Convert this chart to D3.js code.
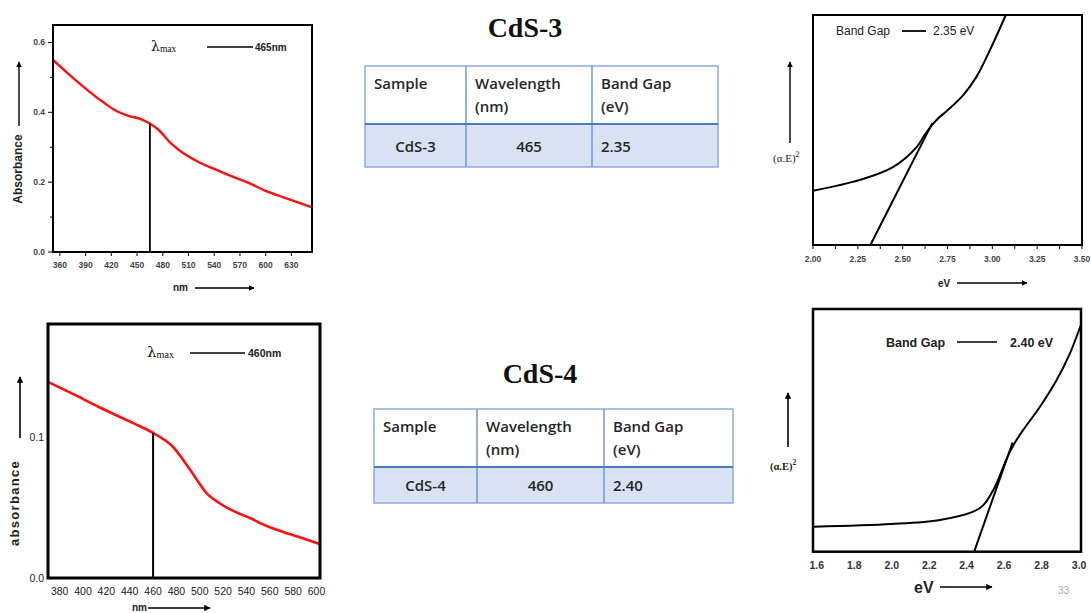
<!DOCTYPE html>
<html>
<head>
<meta charset="utf-8">
<script src="https://cdn.jsdelivr.net/npm/d3@7"></script>
<style>
  body { margin: 0; background: #fff; }
  svg { display: block; }
</style>
</head>
<body>
<svg id="slide"></svg>
<script>
// ---- data ----
// CdS-3 absorbance (nm, abs)
var cds3Nm  = [352, 370, 390, 410, 425, 440, 455, 465, 475, 490, 500, 520, 540, 560, 580, 600, 620, 640, 654];
var cds3Abs = [0.55, 0.51, 0.468, 0.43, 0.405, 0.39, 0.38, 0.368, 0.35, 0.31, 0.29, 0.26, 0.238, 0.217, 0.198, 0.175, 0.157, 0.14, 0.128];
var cds3Peak = 465;
var cds3XTicks = [360, 390, 420, 450, 480, 510, 540, 570, 600, 630];
var cds3YTicks = [0.0, 0.2, 0.4, 0.6];

// CdS-4 absorbance
var cds4Nm  = [370, 390, 414, 443, 460, 477, 492, 506, 517, 530, 543, 557, 571, 585, 603];
var cds4Abs = [0.139, 0.131, 0.121, 0.1097, 0.1028, 0.093, 0.0764, 0.060, 0.053, 0.047, 0.0425, 0.037, 0.0328, 0.029, 0.024];
var cds4Peak = 460;
var cds4XTicks = [380, 400, 420, 440, 460, 480, 500, 520, 540, 560, 580, 600];
var cds4YTicks = [0.0, 0.1];

// Tauc plots (eV, (αE)^2 in arbitrary units 0-100)
var tauc3Ev  = [2.00, 2.262, 2.448, 2.579, 2.62, 2.66, 2.70, 2.746, 2.838, 2.912, 2.987, 3.075];
var tauc3Val = [23.6, 28.3, 34.0, 42.7, 47.6, 51.8, 55.2, 58.3, 65.2, 73.2, 84.8, 100];
var tangent3 = [[2.32, 0], [2.665, 53]];
var tauc3XTicks = [2.00, 2.25, 2.50, 2.75, 3.00, 3.25, 3.50];

var tauc4Ev  = [1.585, 2.0, 2.258, 2.435, 2.489, 2.542, 2.596, 2.62, 2.66, 2.70, 2.791, 2.880, 2.951, 2.996, 3.01];
var tauc4Val = [10.3, 11.4, 13.1, 16.5, 19.2, 25.4, 35.0, 39.5, 45.3, 50.0, 59.7, 70.7, 81.7, 90.6, 93.5];
var tangent4 = [[2.44, 0], [2.645, 45]];
var tauc4XTicks = [1.6, 1.8, 2.0, 2.2, 2.4, 2.6, 2.8, 3.0];

// tables
var tableHeader = [["Sample"], ["Wavelength", "(nm)"], ["Band Gap", "(eV)"]];
var row3 = ["CdS-3", "465", "2.35"];
var row4 = ["CdS-4", "460", "2.40"];

var svg = d3.select("#slide").attr("width", 1091).attr("height", 613);

svg.append("defs").append("marker")
  .attr("id", "arr").attr("viewBox", "0 0 10 10")
  .attr("refX", 9).attr("refY", 5)
  .attr("markerWidth", 4).attr("markerHeight", 4)
  .attr("orient", "auto")
  .append("path").attr("d", "M0,0 L10,5 L0,10 z").attr("fill", "#000");

function arrow(x1, y1, x2, y2, w) {
  svg.append("line")
    .attr("x1", x1).attr("y1", y1).attr("x2", x2).attr("y2", y2)
    .attr("stroke", "#000").attr("stroke-width", w || 1.5)
    .attr("marker-end", "url(#arr)");
}

function frame(x, y, w, h, sw) {
  svg.append("rect").attr("x", x).attr("y", y).attr("width", w).attr("height", h)
    .attr("fill", "none").attr("stroke", "#000").attr("stroke-width", sw);
}

function lambdaLabel(x, y, size, lx1, lx2, val, valX, valSize) {
  var t = svg.append("text").attr("x", x).attr("y", y)
    .attr("font-family", "DejaVu Serif, serif")
    .attr("font-size", size).attr("fill", "#111");
  t.append("tspan").text("λ");
  t.append("tspan").attr("font-family", "Liberation Serif, serif")
    .attr("font-size", size * 0.68).attr("dy", 1).text("max");
  svg.append("line").attr("x1", lx1).attr("x2", lx2).attr("y1", y - 4).attr("y2", y - 4)
    .attr("stroke", "#000").attr("stroke-width", 1.6);
  svg.append("text").attr("x", valX).attr("y", y)
    .attr("font-family", "Liberation Sans, Arial, sans-serif").attr("font-weight", "bold")
    .attr("font-size", valSize).attr("fill", "#222").text(val);
}

// ---------- Panel 1 : CdS-3 absorbance ----------
(function () {
  var x = d3.scaleLinear().domain([352, 654]).range([53, 312]);
  var y = d3.scaleLinear().domain([0, 0.65]).range([252, 25]);
  var g = svg.append("g");
  var font = "Liberation Sans, Arial, sans-serif";

  g.selectAll(".xt").data(cds3XTicks).enter().append("line")
    .attr("x1", d => x(d)).attr("x2", d => x(d)).attr("y1", 252).attr("y2", 256)
    .attr("stroke", "#000").attr("stroke-width", 1);
  g.selectAll(".xl").data(cds3XTicks).enter().append("text")
    .attr("x", d => x(d)).attr("y", 268).attr("text-anchor", "middle")
    .attr("font-family", font).attr("font-weight", "bold").attr("font-size", 8.5)
    .attr("fill", "#444").text(d => d);
  g.selectAll(".yt").data(d3.range(0, 0.61, 0.1)).enter().append("line")
    .attr("x1", 53).attr("x2", (d, i) => i % 2 ? 50 : 48).attr("y1", d => y(d)).attr("y2", d => y(d))
    .attr("stroke", "#000").attr("stroke-width", 1);
  g.selectAll(".yl").data(cds3YTicks).enter().append("text")
    .attr("x", 45).attr("y", d => y(d) + 3).attr("text-anchor", "end")
    .attr("font-family", font).attr("font-weight", "bold").attr("font-size", 8.5)
    .attr("fill", "#444").text(d => d.toFixed(1));

  var line = d3.line().x((d, i) => x(cds3Nm[i])).y(d => y(d)).curve(d3.curveMonotoneX);
  g.append("path").datum(cds3Abs).attr("d", line)
    .attr("fill", "none").attr("stroke", "#ff1010").attr("stroke-width", 2.4);
  var peakY = cds3Abs[cds3Nm.indexOf(cds3Peak)];
  g.append("line").attr("x1", x(cds3Peak)).attr("x2", x(cds3Peak))
    .attr("y1", y(0)).attr("y2", y(peakY)).attr("stroke", "#000").attr("stroke-width", 1.8);
  frame(53, 25, 259, 227, 2);

  lambdaLabel(151, 51, 14, 207, 253, cds3Peak + "nm", 255, 10);

  svg.append("text").attr("transform", "translate(22,169) rotate(-90)")
    .attr("text-anchor", "middle").attr("font-family", font).attr("font-weight", "bold")
    .attr("font-size", 12).attr("fill", "#222").text("Absorbance");
  arrow(19, 126, 19, 62, 1.4);
  svg.append("text").attr("x", 173).attr("y", 291).attr("font-family", font).attr("font-weight", "bold")
    .attr("font-size", 10).attr("fill", "#222").text("nm");
  arrow(195, 288, 254, 288, 1.4);
})();

// ---------- Panel 2 : CdS-4 absorbance ----------
(function () {
  var x = d3.scaleLinear().domain([370, 603]).range([48, 320]);
  var y = d3.scaleLinear().domain([0, 0.18]).range([578, 324]);
  var g = svg.append("g");
  var font = "Liberation Sans Narrow, Liberation Sans, Arial, sans-serif";

  g.selectAll(".xl").data(cds4XTicks).enter().append("text")
    .attr("x", d => x(d)).attr("y", 595).attr("text-anchor", "middle")
    .attr("font-family", font).attr("font-size", 10.5).attr("font-stretch", "condensed")
    .attr("fill", "#222").text(d => d);
  g.selectAll(".yl").data(cds4YTicks).enter().append("text")
    .attr("x", 44).attr("y", d => y(d) + 4).attr("text-anchor", "end")
    .attr("font-family", font).attr("font-size", 10.5).attr("fill", "#222").text(d => d.toFixed(1));

  var line = d3.line().x((d, i) => x(cds4Nm[i])).y(d => y(d)).curve(d3.curveMonotoneX);
  g.append("path").datum(cds4Abs).attr("d", line)
    .attr("fill", "none").attr("stroke", "#ff1010").attr("stroke-width", 2.6);
  var peakY = cds4Abs[cds4Nm.indexOf(cds4Peak)];
  g.append("line").attr("x1", x(cds4Peak)).attr("x2", x(cds4Peak))
    .attr("y1", y(0)).attr("y2", y(peakY)).attr("stroke", "#000").attr("stroke-width", 2);
  frame(48, 324, 272, 254, 3);

  lambdaLabel(147, 357, 15, 190, 245, cds4Peak + "nm", 248, 10.5);

  svg.append("text").attr("transform", "translate(19,503) rotate(-90)")
    .attr("text-anchor", "middle").attr("font-family", "Liberation Sans, Arial, sans-serif")
    .attr("font-weight", "bold").attr("letter-spacing", 1.3)
    .attr("font-size", 13).attr("fill", "#222").text("absorbance");
  arrow(20, 438, 20, 377, 1.6);
  svg.append("text").attr("x", 132).attr("y", 611).attr("font-family", "Liberation Sans, Arial, sans-serif")
    .attr("font-weight", "bold").attr("font-size", 10).attr("fill", "#222").text("nm");
  arrow(148, 608, 210, 608, 1.6);
})();

// ---------- Panel 3 : CdS-3 Tauc ----------
(function () {
  var x = d3.scaleLinear().domain([2.0, 3.5]).range([813, 1082]);
  var y = d3.scaleLinear().domain([0, 100]).range([245, 15]);
  var g = svg.append("g");
  var font = "Liberation Sans, Arial, sans-serif";

  g.selectAll(".xt").data(d3.range(2.0, 3.51, 0.125)).enter().append("line")
    .attr("x1", d => x(d)).attr("x2", d => x(d)).attr("y1", 245).attr("y2", 249)
    .attr("stroke", "#000").attr("stroke-width", 1);
  g.selectAll(".xl").data(tauc3XTicks).enter().append("text")
    .attr("x", d => x(d)).attr("y", 262).attr("text-anchor", "middle")
    .attr("font-family", font).attr("font-weight", "bold").attr("font-size", 8.5)
    .attr("fill", "#444").text(d => d.toFixed(2));

  svg.append("clipPath").attr("id", "c3").append("rect")
    .attr("x", 813).attr("y", 15).attr("width", 269).attr("height", 230);
  var line = d3.line().x((d, i) => x(tauc3Ev[i])).y(d => y(d)).curve(d3.curveCatmullRom.alpha(0.5));
  g.append("path").datum(tauc3Val).attr("d", line).attr("clip-path", "url(#c3)")
    .attr("fill", "none").attr("stroke", "#000").attr("stroke-width", 2);
  g.append("path").datum(tangent3).attr("d", d3.line().x(d => x(d[0])).y(d => y(d[1])))
    .attr("fill", "none").attr("stroke", "#000").attr("stroke-width", 2);
  frame(813, 15, 269, 230, 2);

  svg.append("text").attr("x", 836).attr("y", 35).attr("font-family", font)
    .attr("font-size", 12).attr("fill", "#222").text("Band Gap");
  svg.append("line").attr("x1", 902).attr("x2", 926).attr("y1", 31).attr("y2", 31)
    .attr("stroke", "#000").attr("stroke-width", 1.8);
  svg.append("text").attr("x", 933).attr("y", 35).attr("font-family", font)
    .attr("font-size", 12).attr("fill", "#222").text("2.35 eV");

  var t = svg.append("text").attr("x", 773).attr("y", 162).attr("font-family", "Liberation Serif, serif")
    .attr("font-size", 11).attr("fill", "#222");
  t.append("tspan").text("(α.E)");
  t.append("tspan").attr("dy", -5).attr("font-size", 8).text("2");
  arrow(790, 143, 790, 62, 1.4);
  svg.append("text").attr("x", 938).attr("y", 287).attr("font-family", font).attr("font-weight", "bold")
    .attr("font-size", 10).attr("fill", "#222").text("eV");
  arrow(957, 283, 1027, 283, 1.4);
})();

// ---------- Panel 4 : CdS-4 Tauc ----------
(function () {
  var x = d3.scaleLinear().domain([1.58, 3.01]).range([813, 1081]);
  var y = d3.scaleLinear().domain([0, 100]).range([551.7, 309]);
  var g = svg.append("g");
  var font = "Liberation Sans, Arial, sans-serif";

  g.selectAll(".xl").data(tauc4XTicks).enter().append("text")
    .attr("x", d => x(d)).attr("y", 569).attr("text-anchor", "middle")
    .attr("font-family", "Liberation Sans Narrow, Liberation Sans, Arial, sans-serif")
    .attr("font-weight", "bold").attr("font-size", 10.5)
    .attr("fill", "#333").text(d => d.toFixed(1));

  svg.append("clipPath").attr("id", "c4").append("rect")
    .attr("x", 813).attr("y", 309).attr("width", 268).attr("height", 243);
  var line = d3.line().x((d, i) => x(tauc4Ev[i])).y(d => y(d)).curve(d3.curveCatmullRom.alpha(0.5));
  g.append("path").datum(tauc4Val).attr("d", line).attr("clip-path", "url(#c4)")
    .attr("fill", "none").attr("stroke", "#000").attr("stroke-width", 2);
  g.append("path").datum(tangent4).attr("d", d3.line().x(d => x(d[0])).y(d => y(d[1])))
    .attr("fill", "none").attr("stroke", "#000").attr("stroke-width", 2);
  frame(813, 309, 268, 242.7, 2.5);

  svg.append("text").attr("x", 886).attr("y", 347).attr("font-family", font).attr("font-weight", "bold")
    .attr("font-size", 12.5).attr("fill", "#222").text("Band Gap");
  svg.append("line").attr("x1", 957).attr("x2", 997).attr("y1", 342).attr("y2", 342)
    .attr("stroke", "#000").attr("stroke-width", 1.6);
  svg.append("text").attr("x", 1010).attr("y", 347).attr("font-family", font).attr("font-weight", "bold")
    .attr("font-size", 12.5).attr("fill", "#222").text("2.40 eV");

  var t = svg.append("text").attr("x", 770).attr("y", 470).attr("font-family", "Liberation Serif, serif")
    .attr("font-weight", "bold").attr("font-size", 10.5).attr("fill", "#222");
  t.append("tspan").text("(α.E)");
  t.append("tspan").attr("dy", -5).attr("font-size", 7.5).text("2");
  arrow(788, 447, 788, 393, 1.6);
  svg.append("text").attr("x", 914).attr("y", 593).attr("font-family", font).attr("font-weight", "bold")
    .attr("font-size", 16).attr("fill", "#222").text("eV");
  arrow(940, 587, 992, 587, 1.6);

  svg.append("text").attr("x", 1058).attr("y", 594).attr("font-family", font)
    .attr("font-size", 10).attr("fill", "#aaa").text("33");
})();

// ---------- titles + tables ----------
function drawTable(title, titleX, titleY, cols, top, headBottom, bottom, row) {
  svg.append("text").attr("x", titleX).attr("y", titleY).attr("text-anchor", "middle")
    .attr("font-family", "Liberation Serif, Times New Roman, serif").attr("font-weight", "bold")
    .attr("font-size", 28).attr("fill", "#111").text(title);

  var left = cols[0], right = cols[cols.length - 1];
  svg.append("rect").attr("x", left).attr("y", headBottom).attr("width", right - left)
    .attr("height", bottom - headBottom).attr("fill", "#d9e2f3");
  svg.append("rect").attr("x", left).attr("y", top).attr("width", right - left)
    .attr("height", bottom - top).attr("fill", "none").attr("stroke", "#8eaadb").attr("stroke-width", 1.5);
  svg.selectAll(null).data(cols.slice(1, -1)).enter().append("line")
    .attr("x1", d => d).attr("x2", d => d).attr("y1", top).attr("y2", bottom)
    .attr("stroke", "#6f97d8").attr("stroke-width", 1.5);
  svg.append("line").attr("x1", left).attr("x2", right).attr("y1", headBottom).attr("y2", headBottom)
    .attr("stroke", "#4a78c8").attr("stroke-width", 2);

  var font = "Open Sans, Liberation Sans, sans-serif";
  tableHeader.forEach(function (lines, i) {
    lines.forEach(function (s, j) {
      svg.append("text").attr("x", cols[i] + 9).attr("y", top + 23 + j * 23)
        .attr("font-family", font).attr("font-weight", 600).attr("font-size", 15)
        .attr("fill", "#262626").text(s);
    });
  });
  var align = ["middle", "middle", "start"];
  row.forEach(function (s, i) {
    var cx = align[i] === "middle" ? (cols[i] + cols[i + 1]) / 2 : cols[i] + 9;
    svg.append("text").attr("x", cx).attr("y", (headBottom + bottom) / 2 + 6)
      .attr("text-anchor", align[i])
      .attr("font-family", font).attr("font-weight", 600).attr("font-size", 15)
      .attr("fill", "#262626").text(s);
  });
}

drawTable("CdS-3", 525, 37, [365, 466, 592, 718], 66, 124, 167, row3);
drawTable("CdS-4", 540, 383, [374, 477, 604, 733], 409, 467, 503, row4);
</script>
</body>
</html>
